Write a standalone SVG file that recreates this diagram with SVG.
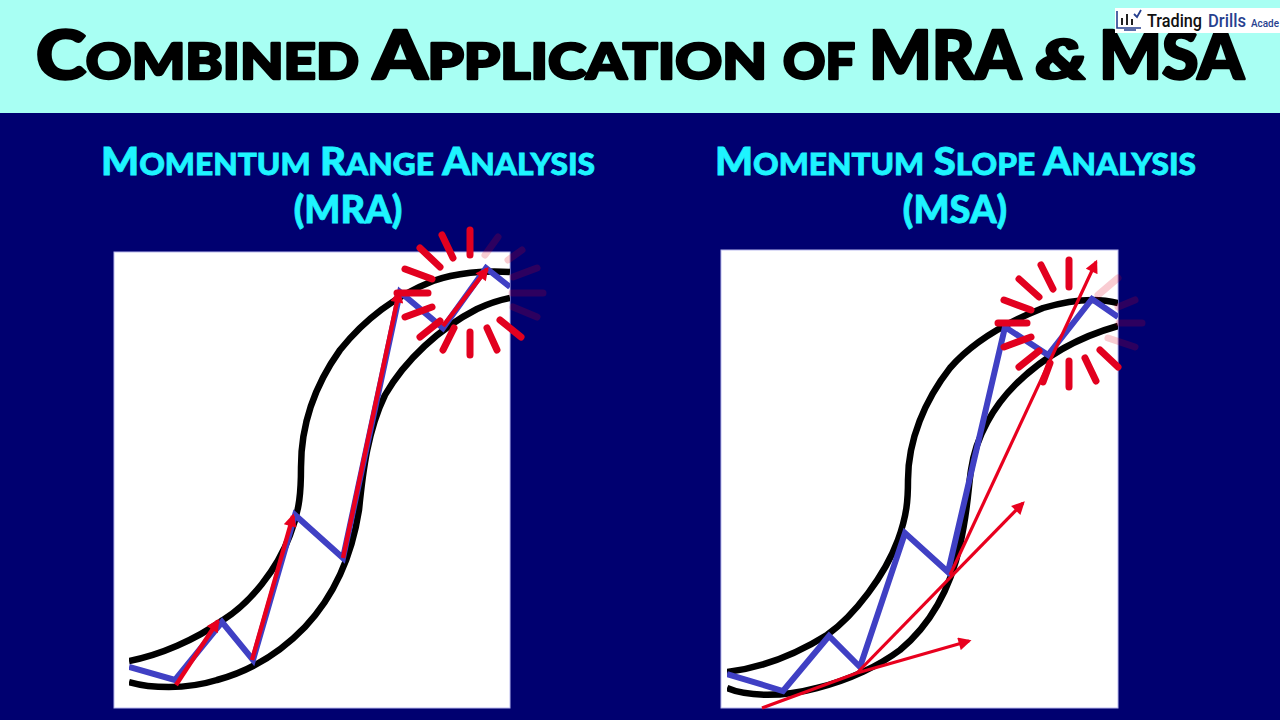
<svg xmlns="http://www.w3.org/2000/svg" width="1280" height="720" viewBox="0 0 1280 720">
<style>
.t{font-family:Lato,"Open Sans",sans-serif;font-weight:900;fill:#000;stroke:#000;stroke-width:2.6px;stroke-linejoin:round}
.t .s{font-size:50px}
.h{font-family:Lato,"Open Sans",sans-serif;font-weight:900;fill:#1ef4ff;stroke:#1ef4ff;stroke-width:.8px;font-size:38px}
.h .s{font-size:30px}
.panel{fill:#fff;stroke:#b9b9ee;stroke-width:1}
.curve{fill:none;stroke:#000;stroke-width:6.5;stroke-linejoin:round}
.wave{fill:none;stroke:#4040c4;stroke-width:6;stroke-linejoin:miter}
.arrow{fill:none;stroke:#e8001e;stroke-width:4.4;marker-end:url(#ah)}
.thin{stroke-width:3.2}
.ray{stroke:#e2001f;stroke-width:7;stroke-linecap:round;fill:none}
.fade{stroke-opacity:.2}
</style>
<defs>
<marker id="ah" viewBox="0 0 10 10" refX="8" refY="5" markerUnits="userSpaceOnUse" markerWidth="14" markerHeight="13" orient="auto"><path d="M0 0L10 5L0 10Z" fill="#e8001e"/></marker>
<clipPath id="cl"><rect x="129" y="252" width="381" height="456"/></clipPath>
<clipPath id="cr"><rect x="727" y="250" width="391" height="458"/></clipPath>
</defs>
<rect width="1280" height="720" fill="#000070"/>
<rect id="header" width="1280" height="113" fill="#a8fff3"/>
<g id="title">
<text class="t" x="36" y="79" font-size="67" textLength="323" lengthAdjust="spacingAndGlyphs">C<tspan class="s">OMBINED</tspan></text>
<text class="t" x="373" y="79" font-size="67" textLength="394" lengthAdjust="spacingAndGlyphs">A<tspan class="s">PPLICATION</tspan></text>
<text class="t" x="783" y="79" font-size="50" textLength="72" lengthAdjust="spacingAndGlyphs">OF</text>
<text class="t" x="869" y="79" font-size="67" textLength="152" lengthAdjust="spacingAndGlyphs">MRA</text>
<text class="t" x="1036" y="79" font-size="56" font-style="italic" textLength="51" lengthAdjust="spacingAndGlyphs">&amp;</text>
<text class="t" x="1099" y="79" font-size="67" textLength="145" lengthAdjust="spacingAndGlyphs">MSA</text>
</g>
<g id="logo">
<rect x="1115" y="8" width="165" height="25" fill="#fff"/>
<path d="M1117 11V28H1141M1124 30H1136" fill="none" stroke="#27408f" stroke-width="1.6"/>
<path d="M1122 18V25M1127 14V25M1132 19V25" fill="none" stroke="#222" stroke-width="2"/>
<path d="M1134 14L1137 17L1141 10" fill="none" stroke="#27408f" stroke-width="1.8"/>
<text x="1147" y="27" font-family="Roboto,sans-serif" font-weight="500" font-size="18" fill="#111" textLength="55" lengthAdjust="spacingAndGlyphs">Trading</text>
<text x="1208" y="27" font-family="Roboto,sans-serif" font-weight="500" font-size="18" fill="#27408f" textLength="38" lengthAdjust="spacingAndGlyphs">Drills</text>
<text x="1251" y="27" font-family="Roboto,sans-serif" font-weight="500" font-size="11" fill="#27408f" textLength="28" lengthAdjust="spacingAndGlyphs">Acade</text>
</g>
<g id="mra-heading">
<text class="h" x="101" y="175" textLength="494" lengthAdjust="spacingAndGlyphs">M<tspan class="s">OMENTUM</tspan> R<tspan class="s">ANGE</tspan> A<tspan class="s">NALYSIS</tspan></text>
<text class="h" x="348" y="223" text-anchor="middle">(MRA)</text>
</g>
<g id="msa-heading">
<text class="h" x="715" y="175" textLength="481" lengthAdjust="spacingAndGlyphs">M<tspan class="s">OMENTUM</tspan> S<tspan class="s">LOPE</tspan> A<tspan class="s">NALYSIS</tspan></text>
<text class="h" x="955" y="223" text-anchor="middle">(MSA)</text>
</g>
<g id="mra-chart">
<rect class="panel" x="114" y="252" width="396" height="456"/>
<g clip-path="url(#cl)">
<path class="curve" d="M129 661C160 655 195 640 223 620C250 603 277 570 290 535C300 510 301 490 301 467C301 425 315 385 340 350C360 325 390 298 433 281C455 273 485 270 510 272"/>
<path class="curve" d="M129 682C150 688 185 690 217 680C250 671 280 653 305 627C335 595 352 555 359 510C363 470 368 430 385 395C405 360 440 328 477 309C490 303 500 300 510 298"/>
<path class="wave" d="M129 667L175 680L222 622L253 660L295 515L343 558L400 292L443 328L486 268L510 287"/>
</g>
<path class="arrow" d="M176 685L218 621"/>
<path class="arrow" d="M252 660L293 516"/>
<path class="arrow" d="M343 558L399 292"/>
<path class="arrow" d="M443 326L487 269"/>
<path class="ray" d="M442 235L453 258M420 248L440 267M405 269L432 279M397 293L428 293M405 317L432 307M420 337L440 321M443 350L454 328M470 332V355M487 328L497 350M500 320L521 337M470 230V255"/>
<path class="ray fade" d="M513 307L537 317M512 293L543 293M513 277L537 268M508 260L522 250M485 255L498 237"/>
</g>
<g id="msa-chart">
<rect class="panel" x="721" y="250" width="397" height="458"/>
<g clip-path="url(#cr)">
<path class="curve" d="M727 672C760 668 795 655 827 635C855 615 885 575 898 540C907 515 908 500 908 480C908 440 925 400 950 368C970 345 1000 325 1043 308C1070 300 1095 297 1118 303"/>
<path class="curve" d="M727 688C745 696 780 698 817 688C850 680 880 665 900 650C930 625 950 590 960 545C968 510 968 490 971 470C976 435 995 405 1015 385C1040 360 1075 338 1118 326"/>
<path class="wave" d="M727 674L783 691L829 636L860 667L905 533L948 572L1005 327L1048 355L1092 299L1118 317"/>
</g>
<path class="ray" d="M1041 265L1053 289M1019 279L1039 297M1004 300L1031 310M998 323H1027M1004 347L1031 337M1019 367L1039 351M1069 260V287M1069 361V387M1085 358L1096 381M1100 350L1118 367M1043 382L1050 363"/>
<path class="ray fade" d="M1098 295L1118 278M1118 307L1135 300M1119 323H1142M1108 338L1135 347"/>
<g>
<path class="arrow thin" d="M762 708L857 673L969 641"/>
<path class="arrow thin" d="M857 673L1023 503"/>
<path class="arrow thin" d="M950 575L1096 262"/>
</g>
</g>
</svg>
